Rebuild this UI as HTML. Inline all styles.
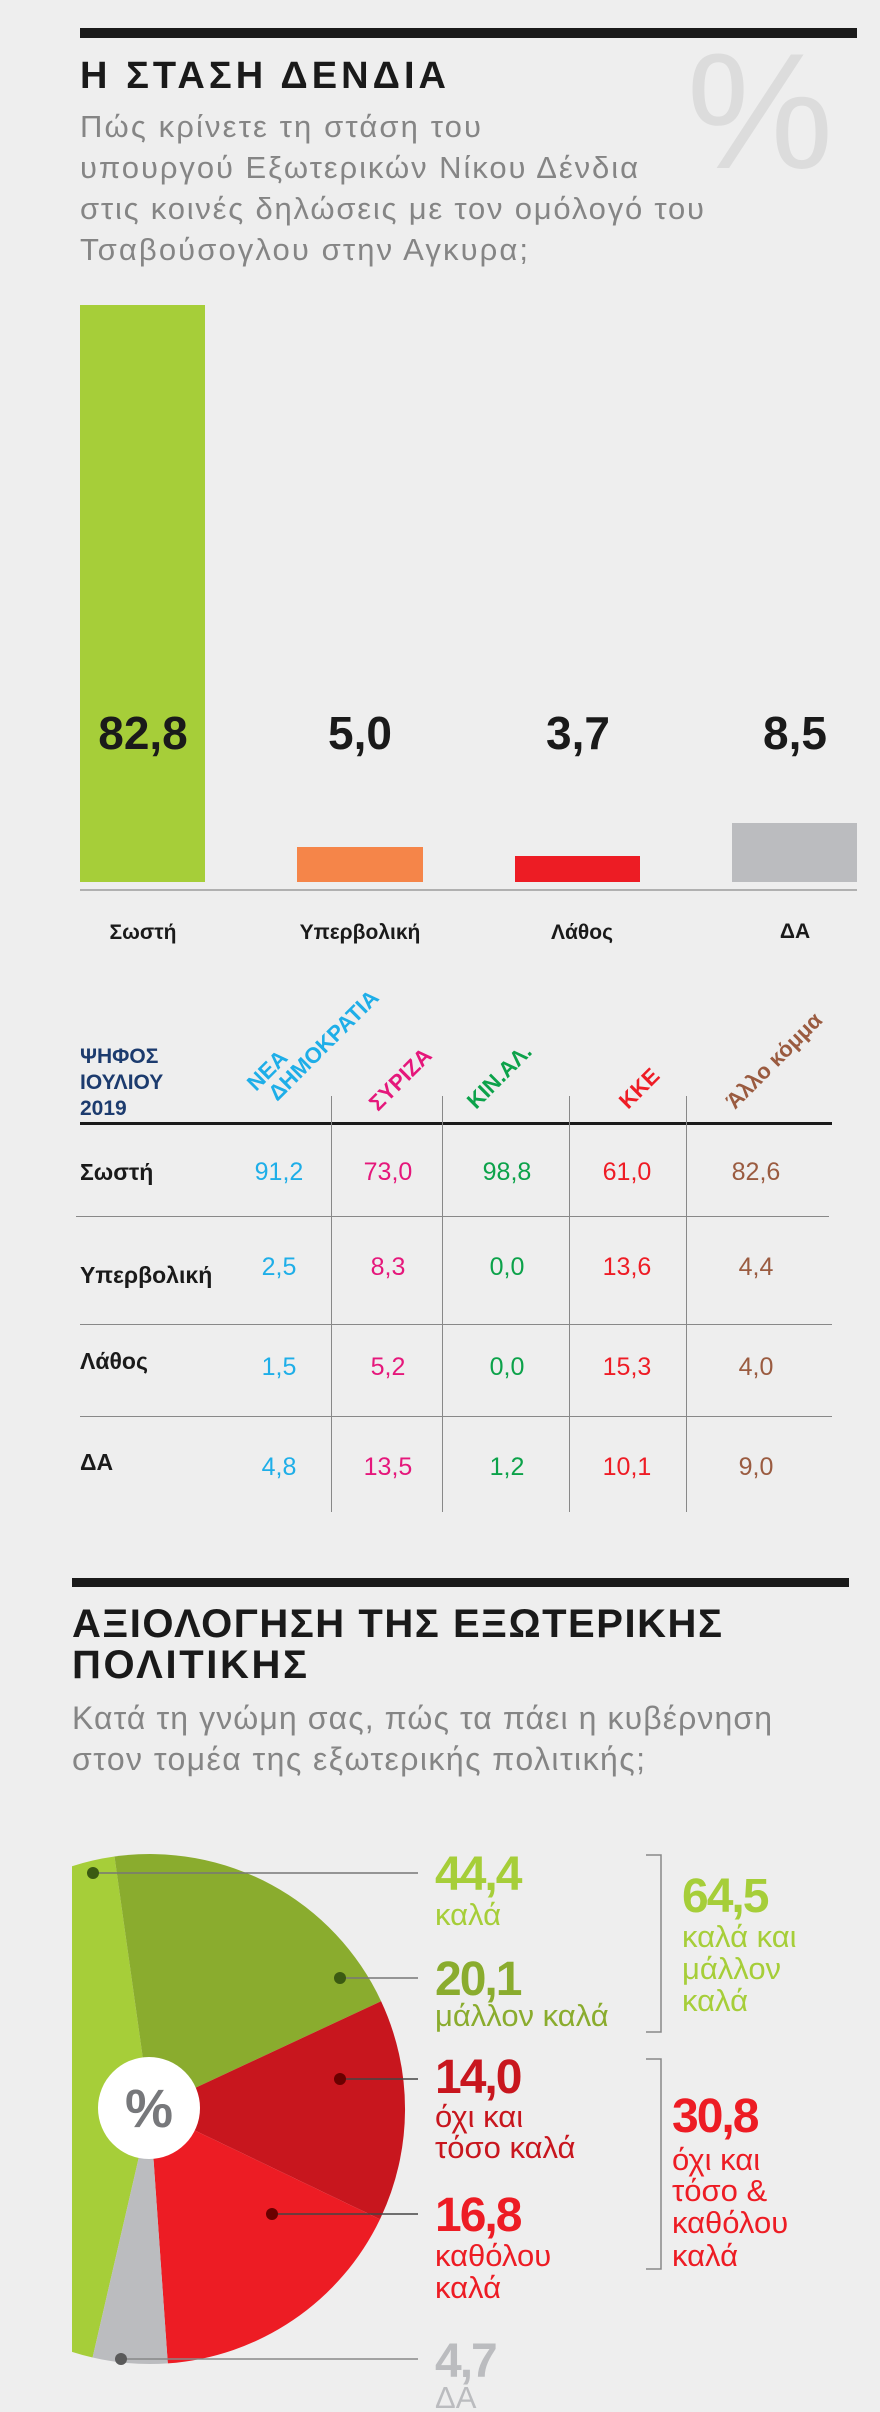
<!DOCTYPE html>
<html><head><meta charset="utf-8"><style>
html,body{margin:0;padding:0;background:#eeeeee;}
svg{display:block;}
text{font-family:"Liberation Sans","DejaVu Sans",sans-serif;}
.b{font-weight:bold;}
</style></head><body>
<svg width="880" height="2412" viewBox="0 0 880 2412" xmlns="http://www.w3.org/2000/svg">
<rect width="880" height="2412" fill="#eeeeee"/>
<!-- Section 1 -->
<rect x="80" y="28" width="777" height="10" fill="#1a1a1a"/>
<text x="760" y="168" font-size="165" fill="#dcdcdc" text-anchor="middle">%</text>
<text x="80" y="88" class="b" font-size="38" fill="#1a1a1a" textLength="366" lengthAdjust="spacing">Η ΣΤΑΣΗ ΔΕΝΔΙΑ</text>
<g font-size="31" fill="#858585">
<text x="80" y="137" textLength="401" lengthAdjust="spacing">Πώς κρίνετε τη στάση του</text>
<text x="80" y="178" textLength="558" lengthAdjust="spacing">υπουργού Εξωτερικών Νίκου Δένδια</text>
<text x="80" y="219" textLength="624" lengthAdjust="spacing">στις κοινές δηλώσεις με τον ομόλογό του</text>
<text x="80" y="260" textLength="448" lengthAdjust="spacing">Τσαβούσογλου στην Αγκυρα;</text>
</g>
<rect x="80" y="305" width="125" height="577" fill="#a6ce39"/>
<rect x="297" y="847" width="126" height="35" fill="#f58549"/>
<rect x="515" y="856" width="125" height="26" fill="#ed1c24"/>
<rect x="732" y="823" width="125" height="59" fill="#bbbcbf"/>
<rect x="80" y="889" width="777" height="2" fill="#b0b0b0"/>
<g class="b" font-size="46" fill="#1a1a1a" text-anchor="middle">
<text x="143" y="749">82,8</text><text x="360" y="749">5,0</text><text x="578" y="749">3,7</text><text x="795" y="749">8,5</text>
</g>
<g class="b" font-size="21" fill="#1a1a1a" text-anchor="middle">
<text x="143" y="939">Σωστή</text><text x="360" y="939">Υπερβολική</text><text x="582" y="939">Λάθος</text><text x="795" y="938">ΔΑ</text>
</g>
<!-- Table -->
<g class="b" font-size="21" fill="#1c3b6e">
<text x="80" y="1063">ΨΗΦΟΣ</text><text x="80" y="1089">ΙΟΥΛΙΟΥ</text><text x="80" y="1115">2019</text>
</g>
<g class="b" font-size="22">
<g transform="translate(256,1092) rotate(-45)" fill="#1eaee8"><text x="0" y="0">ΝΕΑ</text><text x="8" y="22">ΔΗΜΟΚΡΑΤΙΑ</text></g>
<text transform="translate(378,1112) rotate(-45)" fill="#e5177b">ΣΥΡΙΖΑ</text>
<text transform="translate(476,1110) rotate(-45)" fill="#0ca24a">ΚΙΝ.ΑΛ.</text>
<text transform="translate(628,1110) rotate(-45)" fill="#ee1c25">ΚΚΕ</text>
<text transform="translate(735,1110) rotate(-45)" fill="#9a5b40">Άλλο κόμμα</text>
</g>
<rect x="80" y="1122" width="752" height="3" fill="#1a1a1a"/>
<g fill="#888">
<rect x="331" y="1096" width="1" height="416"/><rect x="442" y="1096" width="1" height="416"/>
<rect x="569" y="1096" width="1" height="416"/><rect x="686" y="1096" width="1" height="416"/>
<rect x="76" y="1216" width="753" height="1"/><rect x="80" y="1324" width="752" height="1"/><rect x="80" y="1416" width="752" height="1"/>
</g>
<g class="b" font-size="23" fill="#1a1a1a">
<text x="80" y="1180">Σωστή</text><text x="80" y="1283">Υπερβολική</text><text x="80" y="1369">Λάθος</text><text x="80" y="1470">ΔΑ</text>
</g>
<g font-size="25" text-anchor="middle">
<g fill="#1eaee8"><text x="279" y="1180">91,2</text><text x="279" y="1275">2,5</text><text x="279" y="1375">1,5</text><text x="279" y="1475">4,8</text></g>
<g fill="#e5177b"><text x="388" y="1180">73,0</text><text x="388" y="1275">8,3</text><text x="388" y="1375">5,2</text><text x="388" y="1475">13,5</text></g>
<g fill="#0ca24a"><text x="507" y="1180">98,8</text><text x="507" y="1275">0,0</text><text x="507" y="1375">0,0</text><text x="507" y="1475">1,2</text></g>
<g fill="#ee1c25"><text x="627" y="1180">61,0</text><text x="627" y="1275">13,6</text><text x="627" y="1375">15,3</text><text x="627" y="1475">10,1</text></g>
<g fill="#9a5b40"><text x="756" y="1180">82,6</text><text x="756" y="1275">4,4</text><text x="756" y="1375">4,0</text><text x="756" y="1475">9,0</text></g>
</g>
<!-- Section 2 -->
<rect x="72" y="1578" width="777" height="9" fill="#1a1a1a"/>
<g class="b" font-size="40" fill="#1a1a1a">
<text x="72" y="1637" textLength="650" lengthAdjust="spacing">ΑΞΙΟΛΟΓΗΣΗ ΤΗΣ ΕΞΩΤΕΡΙΚΗΣ</text><text x="72" y="1678" textLength="235" lengthAdjust="spacing">ΠΟΛΙΤΙΚΗΣ</text>
</g>
<g font-size="32" fill="#858585">
<text x="72" y="1729" textLength="700" lengthAdjust="spacing">Κατά τη γνώμη σας, πώς τα πάει η κυβέρνηση</text>
<text x="72" y="1770" textLength="573" lengthAdjust="spacing">στον τομέα της εξωτερικής πολιτικής;</text>
</g>
<defs><clipPath id="c"><rect x="72" y="1800" width="400" height="612"/></clipPath></defs>
<g clip-path="url(#c)">
<path d="M150 2109 L92.6 2357.5 A255 255 0 0 1 114.5 1856.5 Z" fill="#a6ce39"/>
<path d="M150 2109 L114.5 1856.5 A255 255 0 0 1 381.1 2001.2 Z" fill="#8aac2e"/>
<path d="M150 2109 L381.1 2001.2 A255 255 0 0 1 380 2219.2 Z" fill="#c8161e"/>
<path d="M150 2109 L380 2219.2 A255 255 0 0 1 167.8 2363.4 Z" fill="#ed1c24"/>
<path d="M150 2109 L167.8 2363.4 A255 255 0 0 1 92.6 2357.5 Z" fill="#bbbcbf"/>
</g>
<circle cx="149" cy="2108" r="51" fill="#fff"/>
<text x="149" y="2127" text-anchor="middle" class="b" font-size="54" fill="#77787b">%</text>
<g stroke-width="1.5">
<line x1="93" y1="1873" x2="418" y2="1873" stroke="#777"/>
<line x1="340" y1="1978" x2="418" y2="1978" stroke="#777"/>
<line x1="340" y1="2079" x2="418" y2="2079" stroke="#444"/>
<line x1="272" y1="2214" x2="418" y2="2214" stroke="#444"/>
<line x1="121" y1="2359" x2="418" y2="2359" stroke="#888"/>
</g>
<circle cx="93" cy="1873" r="6" fill="#3b5a12"/>
<circle cx="340" cy="1978" r="6" fill="#3b5a12"/>
<circle cx="340" cy="2079" r="6" fill="#6a0000"/>
<circle cx="272" cy="2214" r="6" fill="#6a0000"/>
<circle cx="121" cy="2359" r="6" fill="#5a5a5a"/>
<g font-size="31">
<text x="435" y="1890" class="b" font-size="48" fill="#a6ce39" letter-spacing="-2">44,4</text>
<text x="435" y="1925" fill="#a6ce39">καλά</text>
<text x="435" y="1995" class="b" font-size="48" fill="#8aac2e" letter-spacing="-2">20,1</text>
<text x="435" y="2026" fill="#8aac2e">μάλλον καλά</text>
<text x="435" y="2093" class="b" font-size="48" fill="#c8161e" letter-spacing="-2">14,0</text>
<text x="435" y="2127" fill="#c8161e">όχι και</text>
<text x="435" y="2158" fill="#c8161e">τόσο καλά</text>
<text x="435" y="2231" class="b" font-size="48" fill="#ed1c24" letter-spacing="-2">16,8</text>
<text x="435" y="2266" fill="#ed1c24">καθόλου</text>
<text x="435" y="2298" fill="#ed1c24">καλά</text>
<text x="435" y="2377" class="b" font-size="48" fill="#bbbcbf" letter-spacing="-2">4,7</text>
<text x="435" y="2408" fill="#bbbcbf">ΔΑ</text>
<text x="682" y="1912" class="b" font-size="48" fill="#a6ce39" letter-spacing="-2">64,5</text>
<text x="682" y="1947" fill="#a6ce39">καλά και</text>
<text x="682" y="1979" fill="#a6ce39">μάλλον</text>
<text x="682" y="2011" fill="#a6ce39">καλά</text>
<text x="672" y="2132" class="b" font-size="48" fill="#ed1c24" letter-spacing="-2">30,8</text>
<text x="672" y="2170" fill="#ed1c24">όχι και</text>
<text x="672" y="2201" fill="#ed1c24">τόσο &amp;</text>
<text x="672" y="2233" fill="#ed1c24">καθόλου</text>
<text x="672" y="2266" fill="#ed1c24">καλά</text>
</g>
<g fill="none" stroke="#888" stroke-width="1.5">
<path d="M646 1855 H661 V2032 H646"/>
<path d="M646 2059 H661 V2269 H646"/>
</g>
</svg>
</body></html>
